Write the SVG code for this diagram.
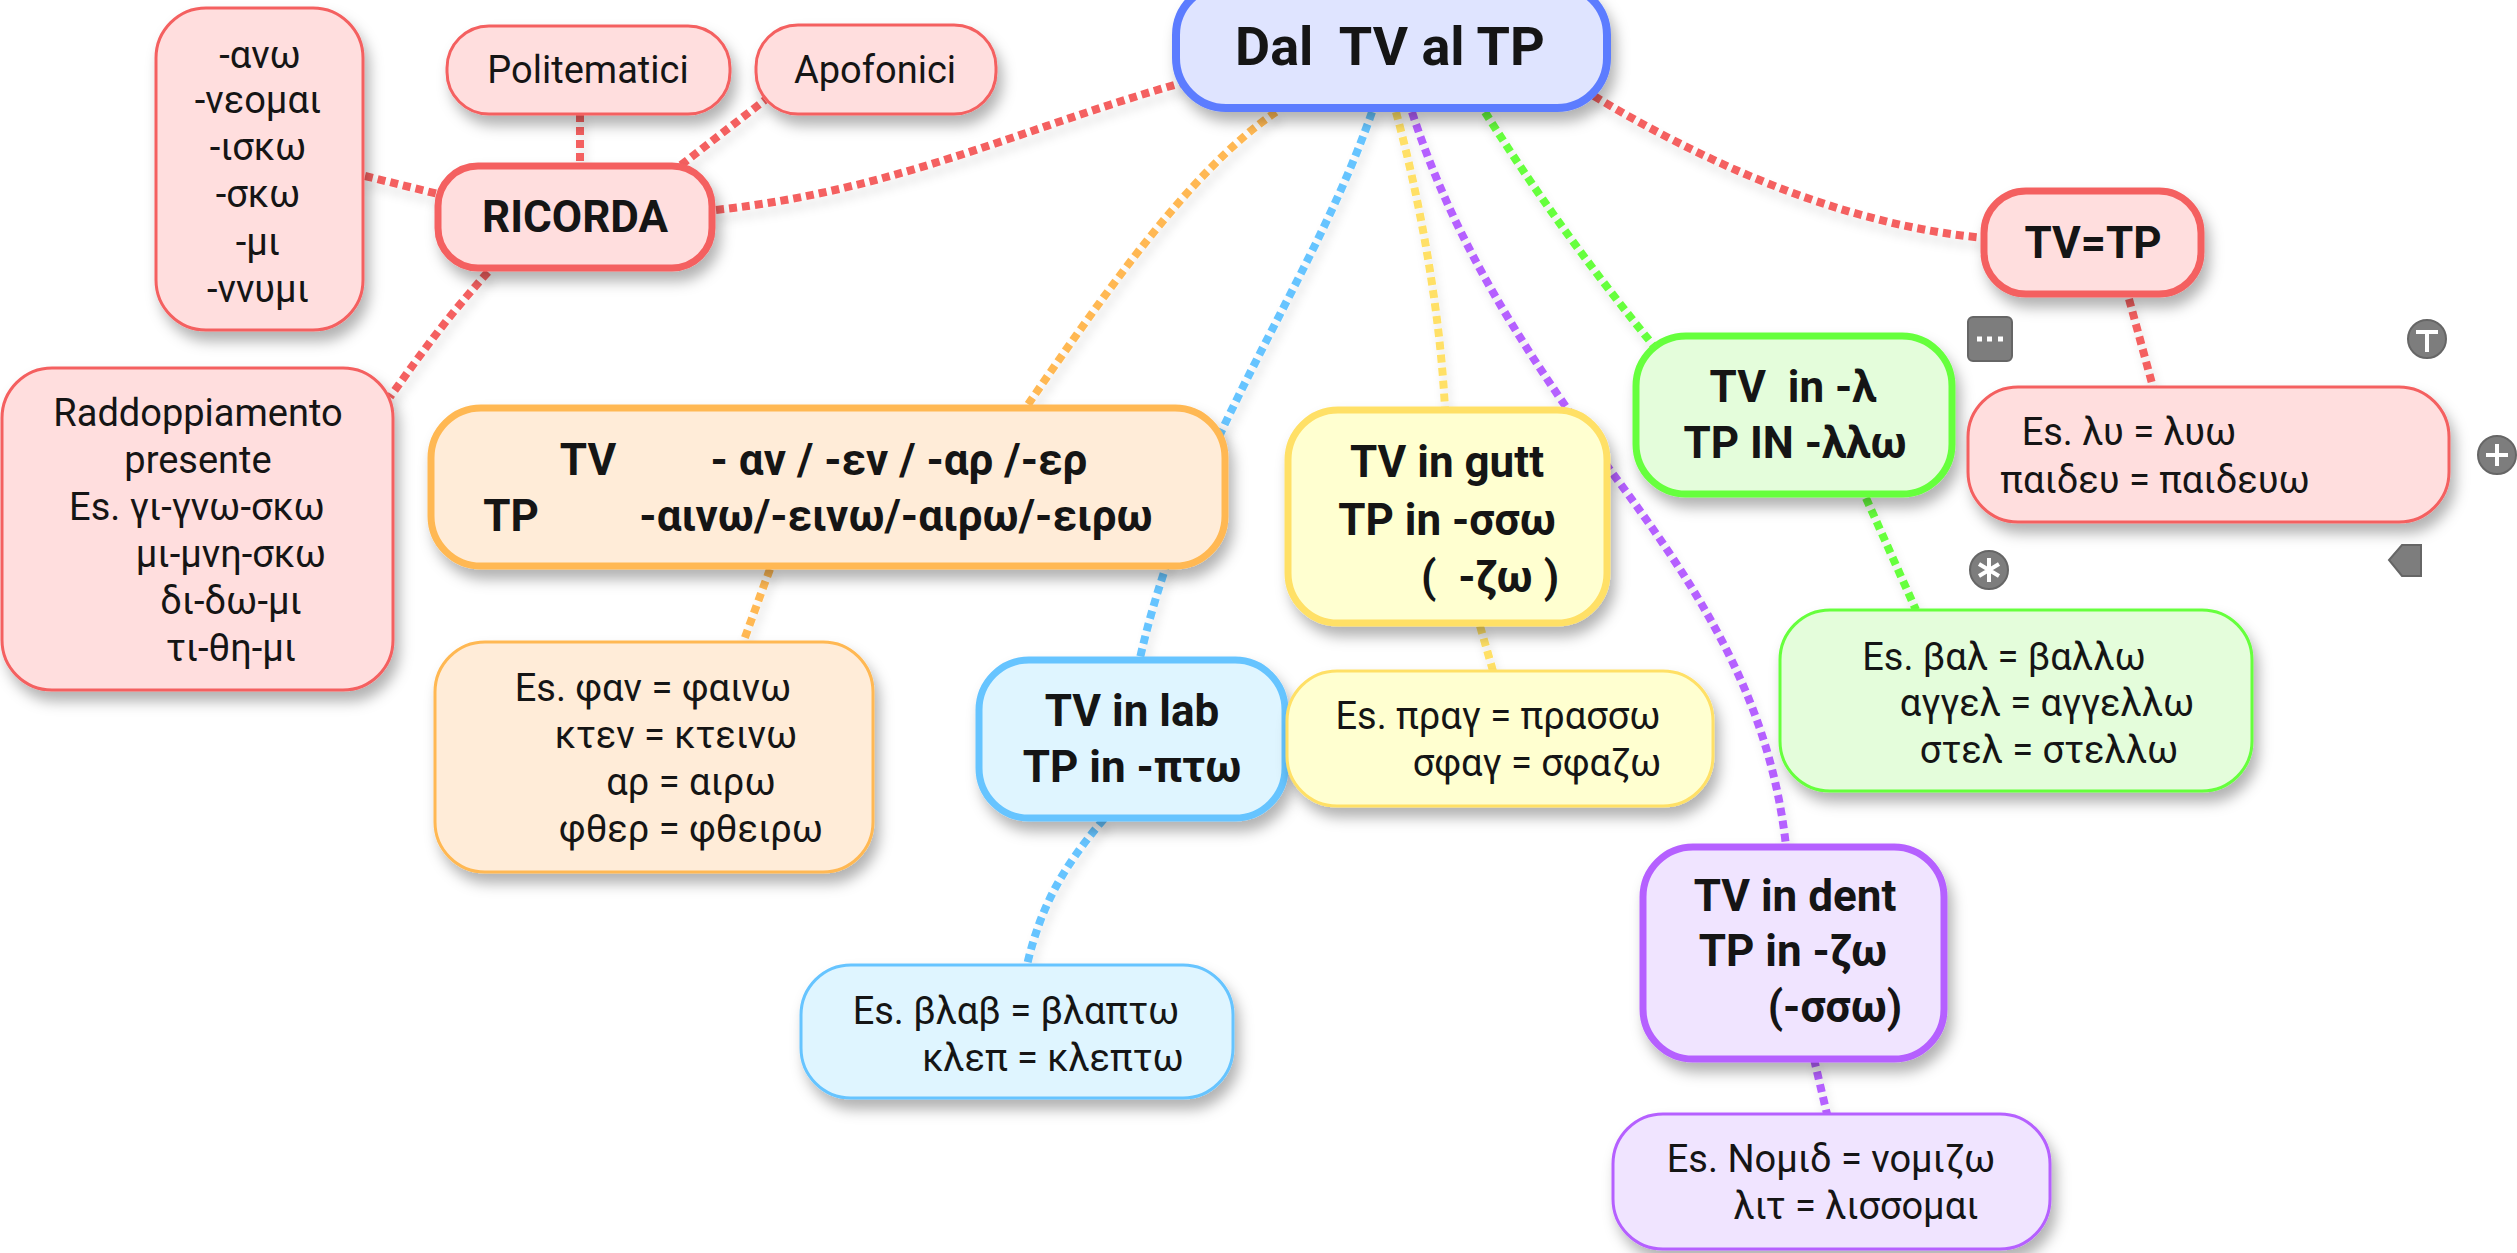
<svg xmlns="http://www.w3.org/2000/svg" width="2517" height="1253" viewBox="0 0 2517 1253">
<defs>
<style>
text{font-family:Roboto,"Liberation Sans",sans-serif;fill:#151515;text-anchor:middle}
.r{font-size:38px}
.b{font-size:44px;font-weight:700}
.c path{fill:none;stroke-width:8;stroke-dasharray:8 5}
.rd{stroke:#f46060}.o{stroke:#ffb852}.y{stroke:#ffe066}.bl{stroke:#66c4ff}.g{stroke:#66ff3c}.p{stroke:#b560ff}
.fr{fill:#ffdede;stroke:#f46060}.fo{fill:#ffecd8;stroke:#ffb852}.fy{fill:#ffffd0;stroke:#ffe066}.fb{fill:#dff5ff;stroke:#66c4ff}.fg{fill:#e4fddb;stroke:#66ff3c}.fp{fill:#f0e4ff;stroke:#b560ff}
.t{stroke-width:3}.m{stroke-width:7}
.i{fill:#7d7d7d;stroke:#666;stroke-width:2}
.w{stroke:#fff;stroke-width:4;fill:none}
</style>
<filter id="s" x="-20%" y="-20%" width="140%" height="150%"><feDropShadow dx="5" dy="10" stdDeviation="7" flood-color="#000" flood-opacity=".3"/></filter>
<filter id="l" x="-20%" y="-20%" width="140%" height="140%"><feDropShadow dx="3" dy="8" stdDeviation="5" flood-color="#000" flood-opacity=".12"/></filter>
</defs>
<rect width="2517" height="1253" fill="#fff"/>
<g id="connectors" class="c" filter="url(#l)">
<path class="rd" d="M716,210C900,190 1030,125 1185,82"/>
<path class="rd" d="M580,114V164"/>
<path class="rd" d="M681,165L765,100"/>
<path class="rd" d="M365,176L438,194"/>
<path class="rd" d="M488,272C445,320 420,355 390,397"/>
<path class="o" d="M1276,112C1190,170 1100,300 1027,406"/>
<path class="o" d="M770,569L744,640"/>
<path class="bl" d="M1372,112C1310,290 1190,440 1140,658"/>
<path class="bl" d="M1104,819C1060,870 1040,910 1027,965"/>
<path class="y" d="M1396,112C1420,200 1440,310 1445,409"/>
<path class="y" d="M1480,626L1493,671"/>
<path class="p" d="M1412,112C1460,260 1540,370 1610,470C1700,590 1770,700 1786,846"/>
<path class="p" d="M1814,1059L1827,1114"/>
<path class="g" d="M1485,112C1540,200 1600,280 1653,345"/>
<path class="g" d="M1866,498L1916,610"/>
<path class="rd" d="M1594,96C1700,160 1840,225 1985,238"/>
<path class="rd" d="M2129,299L2153,387"/>
</g>
<g id="root"><rect x="1176" y="-15" width="431" height="123" rx="50" fill="#dfe4ff" stroke="#5c7cff" stroke-width="8" filter="url(#s)"/>
<text x="1390" y="65" font-size="54" font-weight="700" xml:space="preserve">Dal  TV al TP</text></g>
<g id="n-ricorda"><rect class="fr m" x="438" y="166" width="274" height="102" rx="40" filter="url(#s)"/><text class="b" x="575" y="232">RICORDA</text></g>
<g id="n-anw"><rect class="fr t" x="156" y="8" width="207" height="322" rx="50" filter="url(#s)"/>
<text class="r" x="260" y="68">-ανω</text><text class="r" x="258" y="113">-νεομαι</text><text class="r" x="258" y="160">-ισκω</text><text class="r" x="258" y="207">-σκω</text><text class="r" x="258" y="255">-μι</text><text class="r" x="258" y="302">-ννυμι</text></g>
<g id="n-polit"><rect class="fr t" x="447" y="26" width="283" height="88" rx="42" filter="url(#s)"/><text class="r" x="588" y="83">Politematici</text></g>
<g id="n-apof"><rect class="fr t" x="756" y="25" width="240" height="89" rx="42" filter="url(#s)"/><text class="r" x="875" y="83">Apofonici</text></g>
<g id="n-radd"><rect class="fr t" x="2" y="368" width="391" height="322" rx="50" filter="url(#s)"/>
<text class="r" x="198" y="426">Raddoppiamento</text><text class="r" x="198" y="473">presente</text><text class="r" x="197" y="520">Es. γι-γνω-σκω</text><text class="r" x="231" y="567">μι-μνη-σκω</text><text class="r" x="231" y="614">δι-δω-μι</text><text class="r" x="231" y="661">τι-θη-μι</text></g>
<g id="n-orange"><rect class="fo m" x="431" y="408" width="794" height="158" rx="50" filter="url(#s)"/>
<text class="b" x="588" y="475">TV</text><text class="b" x="899" y="475">- αν / -εν / -αρ /-ερ</text>
<text class="b" x="511" y="531">TP</text><text class="b" x="896" y="531">-αινω/-εινω/-αιρω/-ειρω</text></g>
<g id="n-fan"><rect class="fo t" x="435" y="642" width="438" height="230" rx="50" filter="url(#s)"/>
<text class="r" x="653" y="701">Es. φαν = φαινω</text><text class="r" x="676" y="748">κτεν = κτεινω</text><text class="r" x="691" y="795">αρ = αιρω</text><text class="r" x="691" y="842">φθερ = φθειρω</text></g>
<g id="n-lab"><rect class="fb m" x="979" y="660" width="306" height="158" rx="50" filter="url(#s)"/>
<text class="b" x="1132" y="726">TV in lab</text><text class="b" x="1132" y="782">TP in -πτω</text></g>
<g id="n-blab"><rect class="fb t" x="801" y="965" width="432" height="133" rx="50" filter="url(#s)"/>
<text class="r" x="1016" y="1024">Es. βλαβ = βλαπτω</text><text class="r" x="1053" y="1071">κλεπ = κλεπτω</text></g>
<g id="n-gutt"><rect class="fy m" x="1288" y="410" width="319" height="213" rx="50" filter="url(#s)"/>
<text class="b" x="1447" y="477">TV in gutt</text><text class="b" x="1447" y="535">TP  in -σσω</text><text class="b" x="1490" y="592" xml:space="preserve">(  -ζω )</text></g>
<g id="n-prag"><rect class="fy t" x="1287" y="671" width="426" height="135" rx="50" filter="url(#s)"/>
<text class="r" x="1498" y="729">Es. πραγ = πρασσω</text><text class="r" x="1537" y="776">σφαγ = σφαζω</text></g>
<g id="n-lam"><rect class="fg m" x="1636" y="336" width="316" height="158" rx="50" filter="url(#s)"/>
<text class="b" x="1793" y="402" xml:space="preserve">TV  in -λ</text><text class="b" x="1795" y="458">TP IN -λλω</text></g>
<g id="n-bal"><rect class="fg t" x="1780" y="610" width="472" height="181" rx="50" filter="url(#s)"/>
<text class="r" x="2004" y="670">Es. βαλ = βαλλω</text><text class="r" x="2047" y="716">αγγελ = αγγελλω</text><text class="r" x="2049" y="763">στελ = στελλω</text></g>
<g id="n-dent"><rect class="fp m" x="1643" y="847" width="301" height="212" rx="50" filter="url(#s)"/>
<text class="b" x="1795" y="911">TV in dent</text><text class="b" x="1793" y="966">TP  in -ζω</text><text class="b" x="1835" y="1022">(-σσω)</text></g>
<g id="n-nom"><rect class="fp t" x="1613" y="1114" width="437" height="135" rx="50" filter="url(#s)"/>
<text class="r" x="1831" y="1172">Es. Νομιδ = νομιζω</text><text class="r" x="1856" y="1219">λιτ = λισσομαι</text></g>
<g id="n-tvtp"><rect class="fr m" x="1984" y="191" width="217" height="103" rx="42" filter="url(#s)"/><text class="b" x="2093" y="258">TV=TP</text></g>
<g id="n-lu"><rect class="fr t" x="1968" y="387" width="481" height="135" rx="50" filter="url(#s)"/>
<text class="r" x="2129" y="445">Es. λυ = λυω</text><text class="r" x="2155" y="493">παιδευ = παιδευω</text></g>
<g id="handles">
<rect class="i" x="1968" y="317" width="44" height="44" rx="5"/><path d="M1977,346h5M1987,346h5M1998,346h5" stroke="#fff" stroke-width="5" fill="none" transform="translate(0,-7)"/>
<circle class="i" cx="2427" cy="339" r="19"/><path class="w" d="M2416,332h22M2427,332v20"/>
<circle class="i" cx="2497" cy="455" r="19"/><path class="w" d="M2486,455h22M2497,444v22"/>
<circle class="i" cx="1989" cy="570" r="19"/><path class="w" d="M1989,558v24M1979,564l20,12M1999,564l-20,12" stroke-width="5"/>
<path class="i" d="M2421,545V576H2402L2389,560L2402,545Z"/>
</g>
</svg>
